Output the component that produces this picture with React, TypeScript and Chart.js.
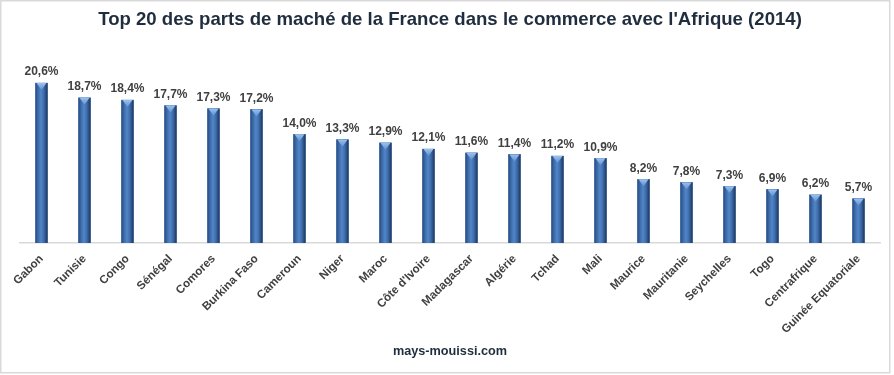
import React, { useEffect, useRef } from "react";
import { Chart, registerables } from "chart.js";

Chart.register(...registerables);

const categories = [
  "Gabon", "Tunisie", "Congo", "Sénégal", "Comores", "Burkina Faso", "Cameroun",
  "Niger", "Maroc", "Côte d'Ivoire", "Madagascar", "Algérie", "Tchad", "Mali",
  "Maurice", "Mauritanie", "Seychelles", "Togo", "Centrafrique", "Guinée Equatoriale",
];
const shares = [20.6, 18.7, 18.4, 17.7, 17.3, 17.2, 14.0, 13.3, 12.9, 12.1, 11.6, 11.4, 11.2, 10.9, 8.2, 7.8, 7.3, 6.9, 6.2, 5.7];
const titleText = "Top 20 des parts de maché de la France dans le commerce avec l'Afrique (2014)";
const footerText = "mays-mouissi.com";

const FONT = "'Liberation Sans', Arial, sans-serif";

const fmt = (v: number) => v.toFixed(1).replace(".", ",") + "%";

const cylinderPlugin = {
  id: "cylinder",
  afterDatasetsDraw(chart: any) {
    const ctx = chart.ctx;
    const meta = chart.getDatasetMeta(0);
    meta.data.forEach((el: any, i: number) => {
      const { x, y, base, width } = el.getProps(["x", "y", "base", "width"], true);
      const l = x - width / 2;
      const r = x + width / 2;
      const g = ctx.createLinearGradient(l, 0, r, 0);
      g.addColorStop(0, "#274A7D");
      g.addColorStop(0.2, "#3C69A6");
      g.addColorStop(0.45, "#5086C8");
      g.addColorStop(0.7, "#3F6CAB");
      g.addColorStop(1, "#1B355B");
      ctx.save();
      ctx.fillStyle = g;
      ctx.fillRect(l, y, width, base - y);
      // top bevel
      const bh = Math.min(7, base - y);
      const tg = ctx.createLinearGradient(0, y, 0, y + bh);
      tg.addColorStop(0, "#9CC0EC");
      tg.addColorStop(1, "#5F92D0");
      ctx.fillStyle = tg;
      ctx.beginPath();
      ctx.moveTo(l + 1, y);
      ctx.lineTo(r - 1, y);
      ctx.lineTo(x, y + bh);
      ctx.closePath();
      ctx.fill();
      // value label
      ctx.fillStyle = "#404040";
      ctx.font = `bold 12px ${FONT}`;
      ctx.textAlign = "center";
      ctx.textBaseline = "bottom";
      ctx.fillText(fmt(shares[i]), x, y - 5);
      ctx.restore();
    });
  },
};

const borderPlugin = {
  id: "frame",
  beforeDraw(chart: any) {
    const ctx = chart.ctx;
    ctx.save();
    ctx.fillStyle = "#FFFFFF";
    ctx.fillRect(0, 0, chart.width, chart.height);
    ctx.strokeStyle = "#D9D9D9";
    ctx.lineWidth = 1.5;
    ctx.strokeRect(0.75, 0.75, 889, 372);
    ctx.restore();
  },
};

export default function App() {
  const ref = useRef<HTMLCanvasElement | null>(null);
  useEffect(() => {
    document.body.style.margin = "0";
    if (!ref.current) return;
    const chart = new Chart(ref.current, {
      type: "bar",
      data: {
        labels: categories,
        datasets: [
          {
            data: shares,
            backgroundColor: "#4A7EC0",
            barThickness: 12,
          },
        ],
      },
      options: {
        animation: false,
        responsive: false,
        devicePixelRatio: 1,
        layout: { padding: { left: 20, right: 14, top: 0, bottom: 0 } },
        plugins: {
          legend: { display: false },
          tooltip: { enabled: false },
          title: {
            display: true,
            text: titleText,
            color: "#1F2D3F",
            font: { family: FONT, size: 18.6, weight: "bold" },
            padding: { top: 9, bottom: 25.3 },
          },
          subtitle: {
            display: true,
            position: "bottom",
            text: footerText,
            color: "#1F2D3F",
            font: { family: FONT, size: 12.7, weight: "bold" },
            padding: { top: 0, bottom: 16 },
          },
        },
        scales: {
          x: {
            grid: { display: false, drawTicks: false },
            border: { display: true, color: "#D9D9D9", width: 1.5 },
            ticks: {
              color: "#404040",
              font: { family: FONT, size: 11.6, weight: "bold" },
              minRotation: 45,
              maxRotation: 45,
              padding: 9,
              autoSkip: false,
            },
            afterFit: (scale: any) => {
              scale.height = 100.8;
            },
          },
          y: {
            display: false,
            min: 0,
            max: 24,
          },
        },
      },
      plugins: [borderPlugin, cylinderPlugin],
    });
    return () => chart.destroy();
  }, []);
  return (
    <div style={{ width: 894, height: 375 }}>
      <canvas ref={ref} width={894} height={375} style={{ display: "block" }} />
    </div>
  );
}
